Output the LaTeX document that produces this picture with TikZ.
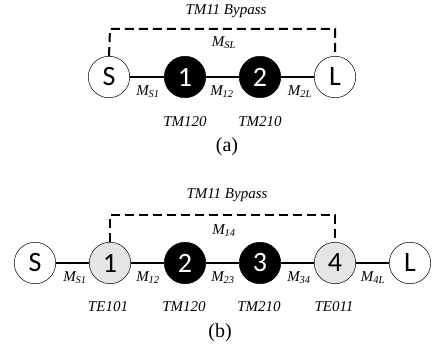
\documentclass[tikz,border=0pt]{standalone}
\usepackage{fontspec}
\setmainfont{Liberation Serif}
\newfontfamily\nodefont{Carlito}
\begin{document}
\begin{tikzpicture}[x=1pt,y=-1pt,
  res/.style={circle,draw=black,line width=0.5pt,minimum size=41.5pt,inner sep=0pt,font=\nodefont\fontsize{28}{28}\selectfont},
  wres/.style={res,fill=white},
  gres/.style={res,fill=black!10},
  bres/.style={res,fill=black,text=white},
  coup/.style={line width=2.5pt},
  byp/.style={line width=2pt,dash pattern=on 9pt off 5pt},
  lbl/.style={font=\itshape\fontsize{15}{15}\selectfont,inner sep=0pt},
  figcap/.style={font=\fontsize{20}{20}\selectfont,inner sep=0pt}]
\useasboundingbox (0,0) rectangle (432,353);
% (a)
\node[wres] (aS) at (109,77) {S};
\node[bres] (a1) at (185,77) {1};
\node[bres] (a2) at (260,77) {2};
\node[wres] (aL) at (335,77) {L};
\draw[coup] (aS) -- (a1);
\draw[coup] (a1) -- (a2);
\draw[coup] (a2) -- (aL);
\coordinate (aTL) at (110,29);
\coordinate (aTR) at (335,29);
\draw[byp] (aS.north) -- (aTL) -- (aTR) -- (aL.north);
\node[lbl] (abyp) at (226,11) {TM11 Bypass};
\node[lbl] (aMSL) at (224,43) {M\textsubscript{SL}};
\node[lbl] (aMS1) at (148,92) {M\textsubscript{S1}};
\node[lbl] (aM12) at (222,92) {M\textsubscript{12}};
\node[lbl] (aM2L) at (300,92) {M\textsubscript{2L}};
\node[lbl] (aT1) at (185,122) {TM120};
\node[lbl] (aT2) at (260,122) {TM210};
\node[figcap] (acap) at (227,147) {(a)};
% (b)
\node[wres] (bS) at (35,263) {S};
\node[gres] (b1) at (110,263) {1};
\node[bres] (b2) at (185,263) {2};
\node[bres] (b3) at (260,263) {3};
\node[gres] (b4) at (335,263) {4};
\node[wres] (bL) at (410,263) {L};
\draw[coup] (bS) -- (b1);
\draw[coup] (b1) -- (b2);
\draw[coup] (b2) -- (b3);
\draw[coup] (b3) -- (b4);
\draw[coup] (b4) -- (bL);
\coordinate (bTL) at (110,215);
\coordinate (bTR) at (335,215);
\draw[byp] (b1.north) -- (bTL) -- (bTR) -- (b4.north);
\node[lbl] (bbyp) at (227,195) {TM11 Bypass};
\node[lbl] (bM14) at (224,231) {M\textsubscript{14}};
\node[lbl] (bMS1) at (75,278) {M\textsubscript{S1}};
\node[lbl] (bM12) at (148,278) {M\textsubscript{12}};
\node[lbl] (bM23) at (223,278) {M\textsubscript{23}};
\node[lbl] (bM34) at (299,278) {M\textsubscript{34}};
\node[lbl] (bM4L) at (373,278) {M\textsubscript{4L}};
\node[lbl] (bT1) at (108,307) {TE101};
\node[lbl] (bT2) at (184,307) {TM120};
\node[lbl] (bT3) at (259,307) {TM210};
\node[lbl] (bT4) at (334,307) {TE011};
\node[figcap] (bcap) at (220,333) {(b)};
\end{tikzpicture}
\end{document}
